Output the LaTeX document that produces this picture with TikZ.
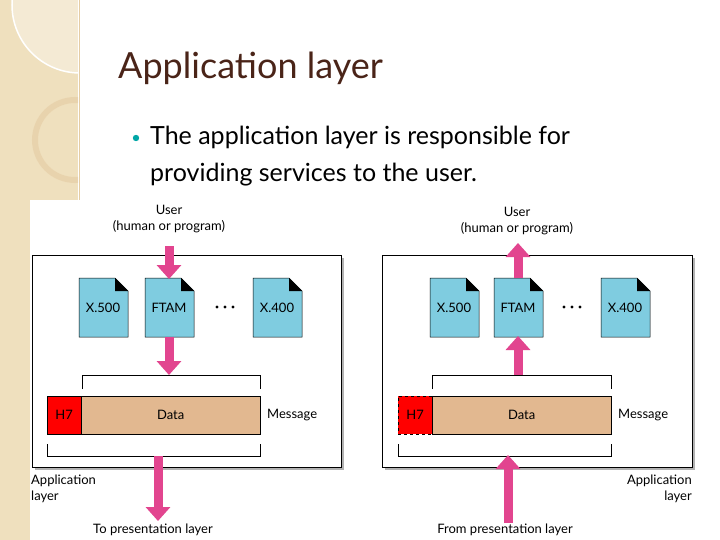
\documentclass[tikz,border=0pt]{standalone}
\usepackage{fontspec}
\setmainfont{Lato}
\usetikzlibrary{arrows.meta}
\definecolor{beige}{HTML}{EFE0BE}
\definecolor{docblue}{HTML}{7FCCE0}
\definecolor{datac}{HTML}{E2B890}
\definecolor{pinkc}{HTML}{E2458F}
\definecolor{titlec}{HTML}{4A2418}
\begin{document}
\begin{tikzpicture}[x=1pt,y=-1pt,
  doc/.style={fill=docblue,draw=black,line width=0.5pt},
  lbl/.style={font=\fontsize{13}{16}\selectfont,align=center,inner sep=0},
  big/.style={line width=9pt,draw=pinkc,-{Triangle[width=24pt,length=14pt]}},
  dots/.style={fill=black}]
\useasboundingbox (0,0) rectangle (720,540);
\fill[white] (0,0) rectangle (720,540);
\fill[beige] (0,0) rectangle (78,540);
\begin{scope}
\clip (0,0) rectangle (78,540);
\draw[white,line width=1.5pt] (80,5) circle (68);
\fill[white,opacity=0.35] (80,5) circle (68);
\draw[beige!75!brown,line width=6pt,opacity=0.5] (75,140) circle (40);
\end{scope}
\draw[beige!80!brown,line width=0.8pt] (79,0) -- (79,540);
\fill[white] (30,200) rectangle (700,540);
\node[anchor=west,text=titlec,font=\fontsize{36}{40}\selectfont,inner sep=0] (title) at (118,68) {Application layer};
\fill[teal!70!cyan] (136,138) circle (3.2);
\node[anchor=north west,align=left,font=\fontsize{25}{37}\selectfont,inner sep=0] (bul) at (150,126) {The application layer is responsible for\\providing services to the user.};
% ---------- left panel
\fill[gray!60] (35,258) rectangle (344,470);
\draw[fill=white,line width=0.7pt] (32,255) rectangle (341,467);
\foreach \x/\t/\n in {79/X.500/la,145/FTAM/lb,253/X.400/lc}{
  \draw[doc] (\x,278) -- (\x+36,278) -- (\x+49,291) -- (\x+49,337) -- (\x,337) -- cycle;
  \fill (\x+36,278) -- (\x+49,291) -- (\x+36,291) -- cycle;
  \node[lbl] (\n) at (\x+24,308) {\t};}
\foreach \d in {-8,0,8} \fill[dots] (225+\d,307) circle (1.6);
\node[lbl] (luser) at (169,219) {User\\(human or program)};
\coordinate (la1) at (169,246); \coordinate (la2) at (169,279);
\draw[big] (la1) -- (la2);
\coordinate (la3) at (169,337); \coordinate (la4) at (169,375);
\draw[big] (la3) -- (la4);
\draw (82,389) -- (82,375) -- (260,375) -- (260,389);
\node[draw,fill=red,minimum width=34pt,minimum height=38pt,anchor=north west,inner sep=0,lbl] (lh) at (47,396) {H7};
\node[draw,fill=datac,minimum width=179pt,minimum height=38pt,anchor=north west,inner sep=0,lbl] (ld) at (81,396) {Data};
\node[lbl,anchor=west] (lmsg) at (267,415) {Message};
\draw (47,444) -- (47,456) -- (260,456) -- (260,444);
\coordinate (la5) at (158,456); \coordinate (la6) at (158,521);
\draw[big] (la5) -- (la6);
\node[lbl,anchor=north west,align=left] (lapp) at (31,475) {Application\\layer};
\node[lbl] (lto) at (153,530) {To presentation layer};
% ---------- right panel
\fill[gray!60] (385,258) rectangle (695,470);
\draw[fill=white,line width=0.7pt] (382,255) rectangle (692,467);
\foreach \x/\t/\n in {430/X.500/ra,494/FTAM/rb,601/X.400/rc}{
  \draw[doc] (\x,278) -- (\x+36,278) -- (\x+49,291) -- (\x+49,337) -- (\x,337) -- cycle;
  \fill (\x+36,278) -- (\x+49,291) -- (\x+36,291) -- cycle;
  \node[lbl] (\n) at (\x+24,308) {\t};}
\foreach \d in {-8,0,8} \fill[dots] (572+\d,307) circle (1.6);
\node[lbl] (ruser) at (517,221) {User\\(human or program)};
\coordinate (ra1) at (518,278); \coordinate (ra2) at (518,243);
\draw[big] (ra1) -- (ra2);
\coordinate (ra3) at (518,375); \coordinate (ra4) at (518,336);
\draw[big] (ra3) -- (ra4);
\draw (432,389) -- (432,375) -- (611,375) -- (611,389);
\node[draw,dashed,fill=red,minimum width=34pt,minimum height=38pt,anchor=north west,inner sep=0,lbl] (rh) at (398,396) {H7};
\node[draw,fill=datac,minimum width=179pt,minimum height=38pt,anchor=north west,inner sep=0,lbl] (rd) at (432,396) {Data};
\node[lbl,anchor=west] (rmsg) at (618,415) {Message};
\draw (398,444) -- (398,456) -- (611,456) -- (611,444);
\coordinate (ra5) at (508,523); \coordinate (ra6) at (508,455);
\draw[big] (ra5) -- (ra6);
\node[lbl,anchor=north east,align=right] (rapp) at (692,475) {Application\\layer};
\node[lbl] (rfrom) at (505,530) {From presentation layer};
\end{tikzpicture}
\end{document}
